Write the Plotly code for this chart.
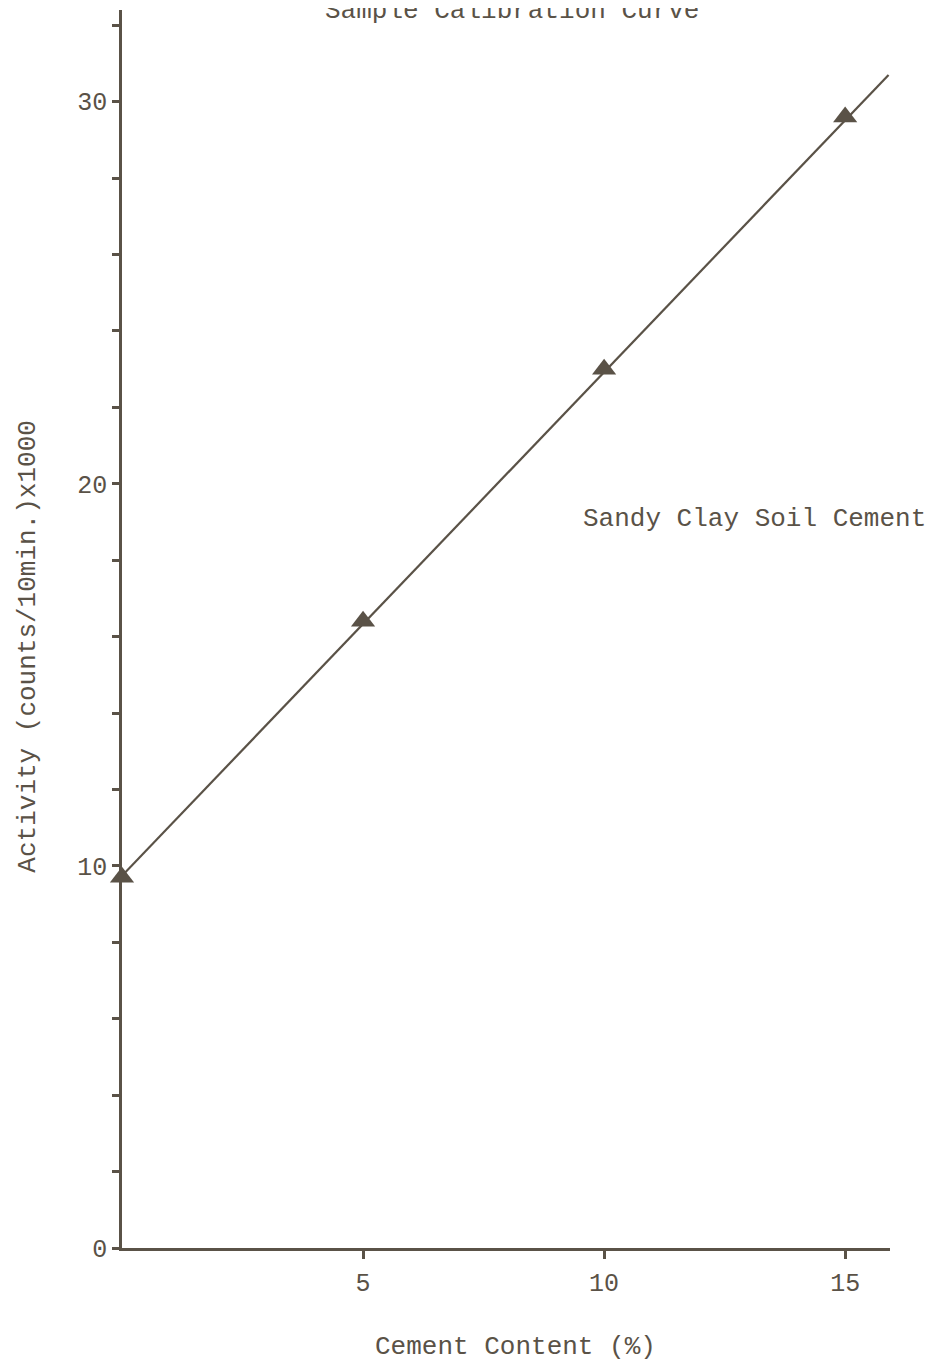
import plotly.graph_objects as go

# Data
cement_pct = [0, 5, 10, 15]
activity_k = [9.7, 16.4, 23.0, 29.6]

fit_x = [0, 15.9]
fit_y = [9.74, 30.7]

y_tick_vals = [0, 2, 4, 6, 8, 10, 12, 14, 16, 18, 20, 22, 24, 26, 28, 30, 32]
y_tick_text = ["0", "", "", "", "", "10", "", "", "", "", "20", "", "", "", "", "30", ""]
x_tick_vals = [5, 10, 15]
x_tick_text = ["5", "10", "15"]

INK = "#5a5247"
FONT = "Liberation Mono, Courier New, monospace"

fig = go.Figure()
fig.add_trace(go.Scatter(x=fit_x, y=fit_y, mode="lines",
                         line=dict(color=INK, width=2.2), showlegend=False,
                         cliponaxis=False))
fig.add_trace(go.Scatter(x=cement_pct, y=activity_k, mode="markers",
                         marker=dict(symbol="triangle-up", size=21, color=INK),
                         showlegend=False, cliponaxis=False))

fig.update_layout(
    width=937, height=1365,
    margin=dict(l=114, r=55, t=2, b=125),
    paper_bgcolor="white", plot_bgcolor="white",
    font=dict(family=FONT, size=25, color=INK),
    xaxis=dict(range=[0, 15.93], showgrid=False, zeroline=False,
               showline=True, linecolor=INK, linewidth=2.5,
               ticks="outside", ticklen=8, tickwidth=2.5, tickcolor=INK,
               tickvals=x_tick_vals, ticktext=x_tick_text,
               ticklabelstandoff=2),
    yaxis=dict(range=[0, 32.4], showgrid=False, zeroline=False,
               showline=True, linecolor=INK, linewidth=2.5,
               ticks="outside", ticklen=7, tickwidth=2.5, tickcolor=INK,
               tickvals=y_tick_vals, ticktext=y_tick_text),
    annotations=[
        dict(text="Sample Calibration Curve", xref="x", yref="paper",
             x=8.08, y=0.999, xanchor="center", yanchor="middle",
             showarrow=False, font=dict(size=26)),
        dict(text="Sandy Clay Soil Cement", xref="x", yref="y",
             x=13.11, y=19.08, xanchor="center", yanchor="middle",
             showarrow=False, font=dict(size=26)),
        dict(text="Cement Content (%)", xref="x", yref="paper",
             x=8.16, y=-0.08, xanchor="center", yanchor="middle",
             showarrow=False, font=dict(size=26)),
        dict(text="Activity (counts/10min.)x1000", xref="paper", yref="paper",
             x=-0.122, y=0.486, xanchor="center", yanchor="middle",
             textangle=-90, showarrow=False, font=dict(size=26)),
    ],
)

fig.write_html("out.html")
